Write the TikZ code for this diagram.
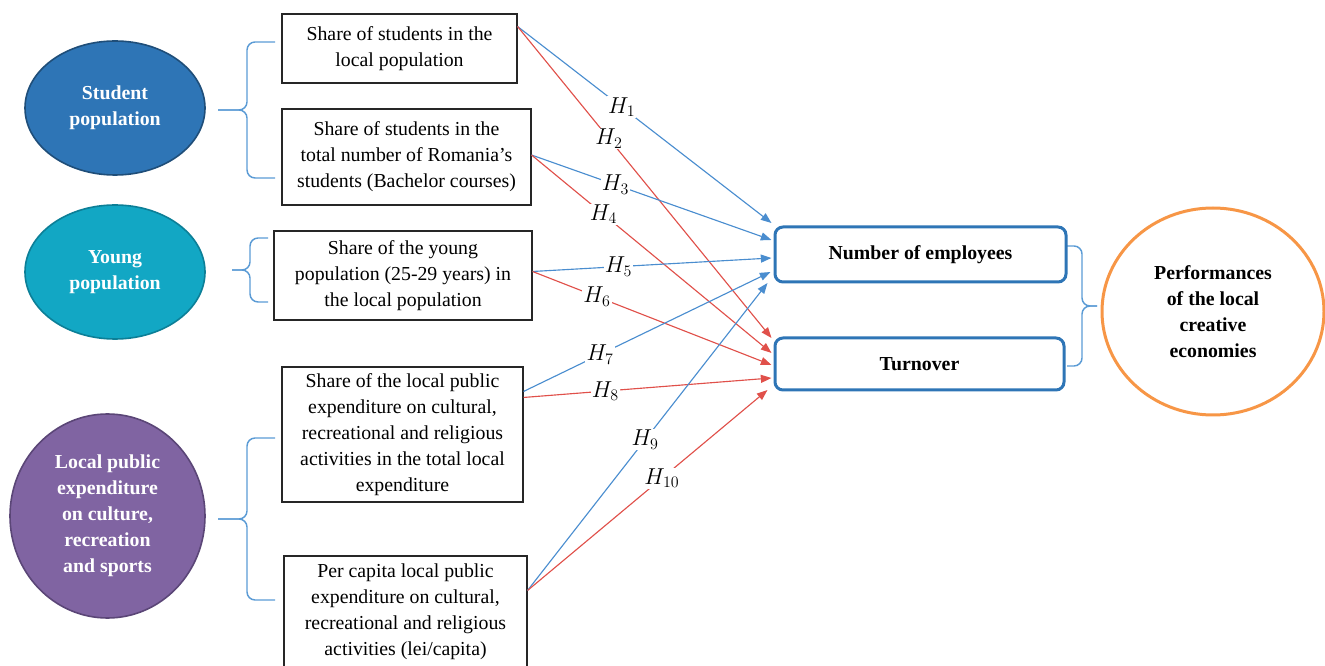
\documentclass[tikz,border=0pt]{standalone}
\usepackage{fontspec}
\setmainfont{Liberation Serif}
\usetikzlibrary{shapes.geometric,arrows.meta,calc}
\definecolor{cstud}{HTML}{2E75B6}
\definecolor{cstudb}{HTML}{1F4E79}
\definecolor{cyoung}{HTML}{12A7C4}
\definecolor{cyoungb}{HTML}{0C7F97}
\definecolor{cexp}{HTML}{8064A2}
\definecolor{cexpb}{HTML}{5B4677}
\definecolor{cbrace}{HTML}{5B9BD5}
\definecolor{cblue}{HTML}{4A8DCF}
\definecolor{cred}{HTML}{E0504A}
\definecolor{ctarget}{HTML}{2E75B6}
\definecolor{corange}{HTML}{F79646}
\newcommand\wordbrace[5]{%
  \draw[bracestyle] (#1,#4) -- (#2,#4) -- (#2,{(#4+#5)/2}) -- (#3,{(#4+#5)/2});
  \draw[bracestyle] (#1,#5) -- (#2,#5) -- (#2,{(#4+#5)/2}) -- (#3,{(#4+#5)/2});
}
\begin{document}
\begin{tikzpicture}[x=0.75pt,y=-0.75pt,
  every node/.style={font=\fontsize{14.85}{19.5}\selectfont, align=center},
  factor/.style={ellipse, draw, line width=1.2pt, inner sep=0pt, text=white, font=\fontsize{14.85}{19.5}\selectfont\bfseries},
  varbox/.style={rectangle, draw=black!85, line width=0.8pt, fill=white, inner sep=0pt},
  target/.style={rectangle, draw=ctarget, line width=2.25pt, rounded corners=6pt, fill=white, inner sep=0pt, font=\fontsize{14.85}{19.5}\selectfont\bfseries},
  bracestyle/.style={draw=cbrace, line width=1.1pt, rounded corners=6pt},
  bluearr/.style={draw=cblue, line width=0.85pt, -{Triangle[length=8pt,width=6pt]}},
  redarr/.style={draw=cred, line width=0.85pt, -{Triangle[length=8pt,width=6pt]}},
  lbl/.style={fill=white, inner sep=0.8pt, font=\fontsize{16.5}{18}\selectfont}
]
\useasboundingbox (0,0) rectangle (1325,666);

% factor ellipses
\node[factor, fill=cstud, draw=cstudb, minimum width=135pt, minimum height=100.5pt] (stud) at (115,108) {Student\\population};
\node[factor, fill=cyoung, draw=cyoungb, minimum width=135pt, minimum height=100.5pt] (young) at (115,272) {Young\\population};
\node[factor, fill=cexp, draw=cexpb, minimum width=146.25pt, minimum height=153pt] (exp) at (107.5,516) {Local public\\expenditure\\on culture,\\recreation\\and sports};

% braces
\wordbrace{275}{247}{218}{42}{178}
\wordbrace{268}{250}{232}{238}{302}
\wordbrace{275}{247}{218}{438}{600}
\wordbrace{1067}{1082}{1097}{246}{366}

% variable boxes
\node[varbox, minimum width=176.25pt, minimum height=51.75pt] (b1) at (399.5,48.5) {Share of students in the\\local population};
\node[varbox, minimum width=186.75pt, minimum height=72pt] (b2) at (406.5,157) {Share of students in the\\total number of Romania’s\\students (Bachelor courses)};
\node[varbox, minimum width=193.5pt, minimum height=66.75pt] (b3) at (403,275.5) {Share of the young\\population (25-29 years) in\\the local population};
\node[varbox, minimum width=180.75pt, minimum height=101.25pt] (b4) at (402.5,434.5) {Share of the local public\\expenditure on cultural,\\recreational and religious\\activities in the total local\\expenditure};
\node[varbox, minimum width=182.25pt, minimum height=84pt] (b5) at (405.5,612) {Per capita local public\\expenditure on cultural,\\recreational and religious\\activities (lei/capita)};

% targets
\node[target, minimum width=218.25pt, minimum height=41.25pt] (t1) at (920.5,254.5) {Number of employees};
\node[target, minimum width=216.75pt, minimum height=39pt] (t2) at (919.5,364) {Turnover};

% outcome circle
\node[ellipse, draw=corange, line width=2.25pt, fill=white, minimum width=166.5pt, minimum height=155.25pt, inner sep=0pt, font=\fontsize{14.85}{19.5}\selectfont\bfseries] (perf) at (1213,311.5) {Performances\\of the local\\creative\\economies};

% start coordinates
\coordinate (s1) at ($(b1.north east)+(0,13)$);
\coordinate (s2) at ($(b2.east)+(0,-2)$);
\coordinate (s3) at ($(b3.east)+(0,-4)$);
\coordinate (s4a) at ($(b4.north east)+(0,25)$);
\coordinate (s4b) at ($(b4.north east)+(0,31)$);
\coordinate (s5) at ($(b5.north east)+(0,35)$);
% end coordinates
\coordinate (e1) at ($(t1.west)+(-2,-31.5)$);
\coordinate (e3) at ($(t1.west)+(-2,-14.5)$);
\coordinate (e5) at ($(t1.west)+(-2,3.5)$);
\coordinate (e7) at ($(t1.west)+(-3,17.5)$);
\coordinate (e9) at ($(t1.west)+(-6,28.5)$);
\coordinate (e2) at ($(t2.west)+(-2,-26)$);
\coordinate (e4) at ($(t2.west)+(-2,-11)$);
\coordinate (e6) at ($(t2.west)+(-2,1)$);
\coordinate (e8) at ($(t2.west)+(-2,14)$);
\coordinate (e10) at ($(t2.west)+(-6,26)$);

% hypotheses
\draw[bluearr] (s1) -- node[lbl,pos=0.41]{$H_{1}$} (e1);
\draw[redarr] (s1) -- node[lbl,pos=0.36]{$H_{2}$} (e2);
\draw[bluearr] (s2) -- node[lbl,pos=0.35]{$H_{3}$} (e3);
\draw[redarr] (s2) -- node[lbl,pos=0.30]{$H_{4}$} (e4);
\draw[bluearr] (s3) -- node[lbl,pos=0.36]{$H_{5}$} (e5);
\draw[redarr] (s3) -- node[lbl,pos=0.27]{$H_{6}$} (e6);
\draw[bluearr] (s4a) -- node[lbl,pos=0.31]{$H_{7}$} (e7);
\draw[redarr] (s4b) -- node[lbl,pos=0.33]{$H_{8}$} (e8);
\draw[bluearr] (s5) -- node[lbl,pos=0.49]{$H_{9}$} (e9);
\draw[redarr] (s5) -- node[lbl,pos=0.56]{$H_{10}$} (e10);
\end{tikzpicture}
\end{document}
